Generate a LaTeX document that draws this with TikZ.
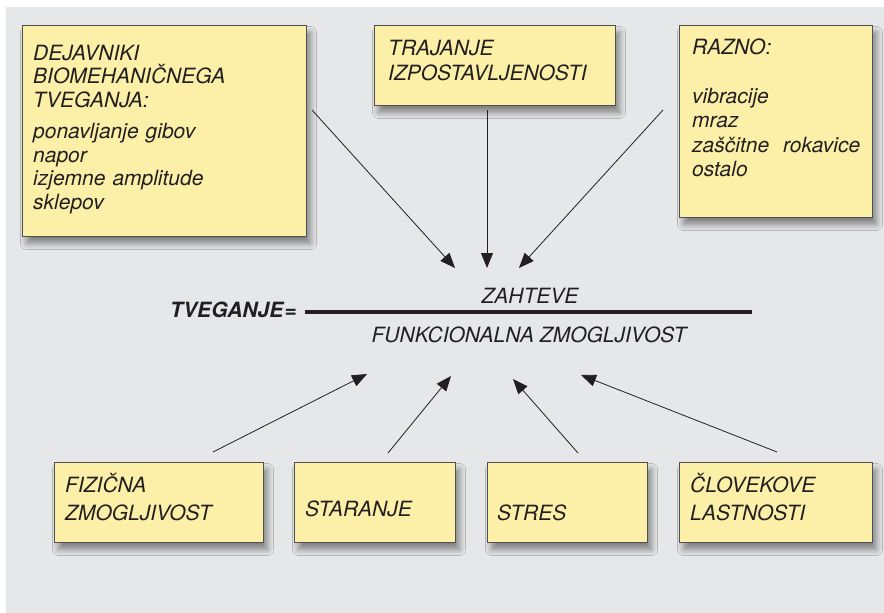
\documentclass[tikz,border=0pt]{standalone}
\usepackage{fontspec}
\setmainfont{TeX Gyre Heros}
\usetikzlibrary{arrows.meta,shadows.blur}
\definecolor{panel}{RGB}{230,231,233}
\definecolor{notefill}{RGB}{252,240,168}
\definecolor{noteline}{RGB}{80,80,80}
\definecolor{ink}{RGB}{35,31,32}
\tikzset{
  note/.style={draw=noteline,fill=notefill,line width=0.9pt,anchor=north west,inner sep=0pt,
    blur shadow={shadow xshift=4pt,shadow yshift=-7pt,shadow blur radius=6pt,shadow blur steps=10,shadow opacity=45}},
  notetext/.style={anchor=base west,inner sep=0pt,align=left,text width=300pt,text=ink,
    font=\fontsize{21}{#1}\selectfont\itshape},
  notetext/.default=24pt,
  pointer/.style={-{Triangle[length=15pt,width=12pt]},line width=0.8pt,draw=ink}
}
\begin{document}
\begin{tikzpicture}[x=1pt,y=-1pt]
\useasboundingbox (0,0) rectangle (884,613);
\fill[panel] (6,7) rectangle (884,613);
% boxes
\node[note,minimum width=284pt,minimum height=211pt] (biomeh) at (22,25) {};
\node[note,minimum width=241pt,minimum height=80pt] (trajanje) at (374,25) {};
\node[note,minimum width=193pt,minimum height=192pt] (razno) at (679,25) {};
\node[note,minimum width=209pt,minimum height=80pt] (fizicna) at (54,462) {};
\node[note,minimum width=161pt,minimum height=80pt] (staranje) at (294,462) {};
\node[note,minimum width=160pt,minimum height=80pt] (stres) at (487,462) {};
\node[note,minimum width=193pt,minimum height=80pt] (clovek) at (679,462) {};
% box texts
\node[notetext=23.5pt] (biomehtxt) at (33,60) {DEJAVNIKI\\BIOMEHANIČNEGA\\TVEGANJA:\\[8pt]ponavljanje gibov\\napor\\izjemne amplitude\\sklepov};
\node[notetext=25pt] (trajanjetxt) at (388,55) {TRAJANJE\\IZPOSTAVLJENOSTI};
\node[notetext=24.5pt] (raznotxt) at (692,54) {RAZNO:\\[24.5pt]vibracije\\mraz\\zaščitne\ \ rokavice\\ostalo};
\node[notetext=28pt] (fizicnatxt) at (65,492) {FIZIČNA\\ZMOGLJIVOST};
\node[notetext] (staranjetxt) at (305,516) {STARANJE};
\node[notetext] (strestxt) at (497,520) {STRES};
\node[notetext=28pt] (clovektxt) at (690,492) {ČLOVEKOVE\\LASTNOSTI};
% formula
\node[anchor=base west,inner sep=0pt,text=ink,font=\fontsize{21}{24}\selectfont\bfseries\itshape] (tveganje) at (170,317) {TVEGANJE\kern1pt=};
\coordinate (barL) at (305,312);
\coordinate (barR) at (752,312);
\draw[ink,line width=4pt] (barL)--(barR);
\node[anchor=base,inner sep=0pt,text=ink,font=\fontsize{21}{24}\selectfont\itshape] (zahteve) at (530,303) {ZAHTEVE};
\node[anchor=base,inner sep=0pt,text=ink,font=\fontsize{21}{24}\selectfont\itshape] (funkc) at (529,342) {FUNKCIONALNA ZMOGLJIVOST};
% arrow ends
\coordinate (s1) at (312,110); \coordinate (e1) at (455,268);
\coordinate (s2) at (487,110); \coordinate (e2) at (487,268);
\coordinate (s3) at (663,110); \coordinate (e3) at (519,268);
\coordinate (s4) at (213,452); \coordinate (e4) at (367,374);
\coordinate (s5) at (388,453); \coordinate (e5) at (451,376);
\coordinate (s6) at (578,453); \coordinate (e6) at (513,379);
\coordinate (s7) at (777,452); \coordinate (e7) at (581,375);
\draw[pointer] (s1)--(e1);
\draw[pointer] (s2)--(e2);
\draw[pointer] (s3)--(e3);
\draw[pointer] (s4)--(e4);
\draw[pointer] (s5)--(e5);
\draw[pointer] (s6)--(e6);
\draw[pointer] (s7)--(e7);
\end{tikzpicture}
\end{document}
